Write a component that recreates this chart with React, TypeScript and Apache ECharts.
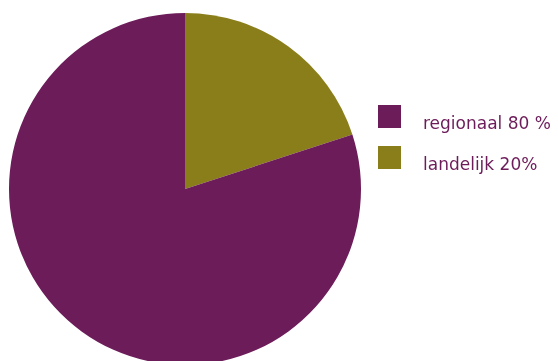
import React, { useEffect, useRef } from "react";
import * as echarts from "echarts";

const categories = ["landelijk 20%", "regionaal 80 %"];
const values = [20, 80];
const colors = ["#8A7E1A", "#6D1C5A"];
const legendOrder = [1, 0]; // indices into categories, top to bottom

export default function App() {
  const ref = useRef<HTMLDivElement>(null);
  useEffect(() => {
    if (!ref.current) return;
    const chart = echarts.init(ref.current, undefined, { renderer: "svg" });
    const legendItems: any[] = [];
    legendOrder.forEach((idx, row) => {
      const top = 105 + row * 41;
      legendItems.push({
        type: "rect",
        shape: { x: 378, y: top, width: 23, height: 23 },
        style: { fill: colors[idx] },
        silent: true,
      });
      legendItems.push({
        type: "text",
        x: 423,
        y: top + 18,
        style: {
          text: categories[idx],
          fill: "#6D1C5A",
          fontSize: 17,
          fontFamily: "DejaVu Sans, Verdana, sans-serif",
          verticalAlign: "middle",
          align: "left",
        },
        silent: true,
      });
    });
    chart.setOption({
      animation: false,
      graphic: legendItems,
      series: [
        {
          type: "pie",
          center: [185, 189],
          radius: 176,
          startAngle: 90,
          clockwise: true,
          label: { show: false },
          labelLine: { show: false },
          emphasis: { disabled: true },
          data: categories.map((c, i) => ({
            name: c,
            value: values[i],
            itemStyle: { color: colors[i] },
          })),
        },
      ],
    });
    return () => chart.dispose();
  }, []);
  return (
    <div
      ref={ref}
      style={{ position: "fixed", left: 0, top: 0, width: 558, height: 361 }}
    />
  );
}
